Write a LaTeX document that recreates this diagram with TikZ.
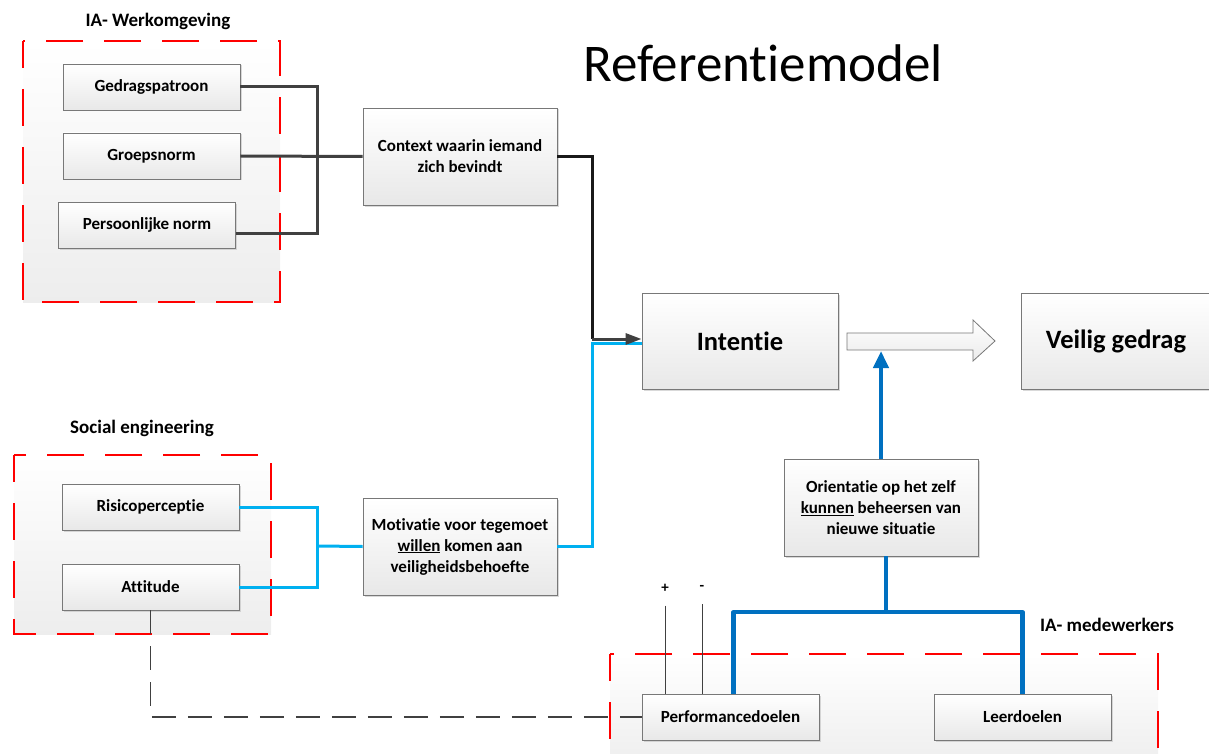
\documentclass[tikz,border=0pt]{standalone}
\usepackage{fontspec}
\setmainfont{Carlito}[Ligatures={NoCommon}]
\usetikzlibrary{arrows.meta,shadows}

\definecolor{redline}{RGB}{255,0,0}
\definecolor{darkblue}{RGB}{0,112,192}
\definecolor{lightblue}{RGB}{0,176,240}
\definecolor{darkline}{RGB}{64,64,64}
\definecolor{boxedge}{RGB}{120,120,120}

\tikzset{
  box/.style={draw=boxedge, line width=0.8pt, top color=white, bottom color=black!9,
    align=center, font=\bfseries\fontsize{17}{21}\selectfont,
    drop shadow={shadow xshift=1.5pt, shadow yshift=-1.5pt, fill=black!25, opacity=0.6}},
  smallbox/.style={box, minimum width=177pt, minimum height=46pt},
  bigbox/.style={box, minimum width=194pt, minimum height=97pt},
  groupbg/.style={top color=white, bottom color=black!7},
  groupline/.style={draw=redline, line width=2.2pt, dash pattern=on 37pt off 21pt, dash phase=10pt},
  grouplabel/.style={font=\bfseries\fontsize{19}{22}\selectfont},
  greyline/.style={draw=darkline, line width=3pt},
  blackline/.style={draw=black!90, line width=3pt},
  cyanline/.style={draw=lightblue, line width=3pt},
  blueline/.style={draw=darkblue, line width=4.2pt, line join=round},
  thinline/.style={draw=darkline, line width=1pt},
}

\begin{document}
\begin{tikzpicture}[x=1pt, y=-1pt]
\clip (0,0) rectangle (1209,754);

% title
\node[font=\fontsize{53}{58}\selectfont] (title) at (763,63) {Referentiemodel};

% group areas
\path[groupbg] (23,41) rectangle (280,302);
\path[groupline] (23,41) rectangle (280,302);
\node[grouplabel] (lblwerk) at (158,21) {IA- Werkomgeving};

\path[groupbg] (14,455) rectangle (271,634);
\path[groupline] (14,455) rectangle (271,634);
\node[grouplabel] (lblsoc) at (142,428) {Social engineering};

\path[groupbg] (610,654) rectangle (1158,770);
\path[groupline] (610,654) rectangle (1158,770);
\node[grouplabel] (lblmed) at (1107,625) {IA- medewerkers};

% boxes
\node[smallbox] (ged) at (151.5,87) {Gedragspatroon};
\node[smallbox] (gro) at (151.5,156) {Groepsnorm};
\node[smallbox] (per) at (147,225) {Persoonlijke norm};
\node[smallbox] (ris) at (150.5,507) {Risicoperceptie};
\node[smallbox] (att) at (150.5,587) {Attitude};
\node[smallbox] (perf) at (730.5,717) {Performancedoelen};
\node[smallbox] (leer) at (1022.5,717) {Leerdoelen};

\node[bigbox] (ctx) at (460,156.5) {Context waarin iemand\\zich bevindt};
\node[bigbox] (mot) at (460,546.5) {Motivatie voor tegemoet\\\underline{willen} komen aan\\veiligheidsbehoefte};
\node[bigbox] (ori) at (881,507.5) {Orientatie op het zelf\\\underline{kunnen} beheersen van\\nieuwe situatie};
\node[box, minimum width=196pt, minimum height=96pt, font=\bfseries\fontsize{26.5}{30}\selectfont] (int) at (740,341) {Intentie};
\node[box, minimum width=190pt, minimum height=96pt, font=\bfseries\fontsize{26.5}{30}\selectfont] (vei) at (1116,341) {Veilig gedrag};

% hollow arrow from Intentie to Veilig gedrag
\path[top color=white, bottom color=black!8, draw=boxedge, line width=0.8pt]
  (847,333) -- (973,333) -- (973,320) -- (995,341) -- (973,361) -- (973,350) -- (847,350) -- cycle;
\coordinate (arrowbase) at (881,351);

% work environment to context
\coordinate (jw) at (317,156);
\draw[greyline] (ged.east) -| (jw);
\draw[greyline] ([yshift=-8pt]per.east) -| (jw);
\draw[greyline] (gro.east) -- (ctx.west);

% social engineering to motivation
\coordinate (js) at (317,546);
\draw[cyanline] (ris.east) -| (js);
\draw[cyanline] (att.east) -| (js);
\draw[cyanline] (js) -- (mot.west);

% into Intentie
\coordinate (jm) at (592,343);
\coordinate (jc) at (592,339);
\draw[cyanline] (mot.east) -| (jm) -- ([yshift=-2pt]int.west);
\draw[blackline] (ctx.east) -| (jc);
\draw[greyline, -{Triangle[width=11pt,length=16pt]}] (jc) -- ([yshift=2pt]int.west);

% goals to orientation
\coordinate (jb) at (886,612);
\draw[blueline] ([xshift=5pt]ori.south) -- (jb);
\draw[blueline] ([xshift=3pt]perf.north) |- (jb) -| (leer.north);
\draw[blueline, -{Triangle[width=15pt,length=17pt]}] (ori.north) -- (arrowbase);

% plus and minus
\node[font=\bfseries\fontsize{15}{17}\selectfont] (plus) at (665,588) {+};
\node[font=\bfseries\fontsize{15}{17}\selectfont] (minus) at (702,588) {-};
\draw[thinline] ([yshift=-10pt]plus.south) -- (plus.south |- perf.north);
\draw[thinline] ([yshift=-10pt]minus.south) -- (minus.south |- perf.north);

% attitude to performance goals
\draw[thinline, line width=1.2pt, dash pattern=on 24pt off 12pt] (att.south) |- (perf.west);
\end{tikzpicture}
\end{document}
